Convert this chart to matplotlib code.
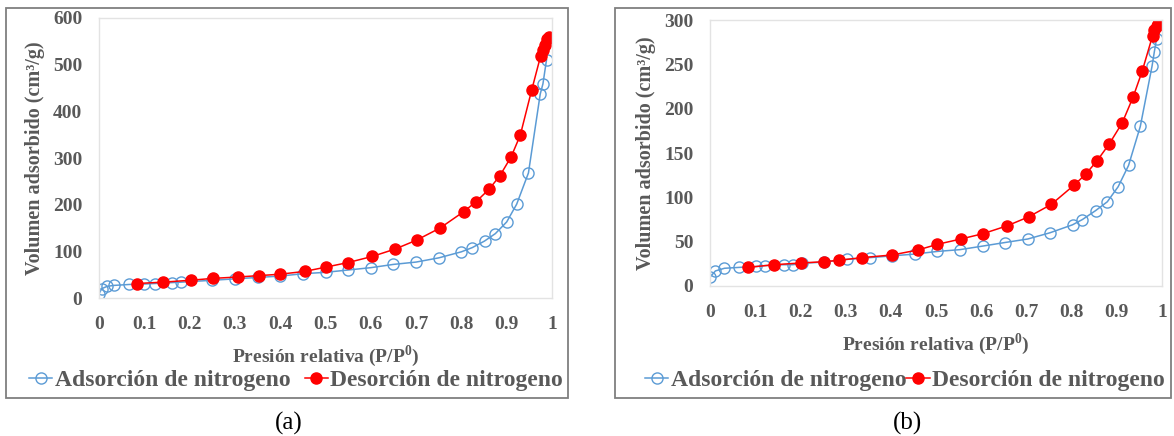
import matplotlib.pyplot as plt
from matplotlib.patches import Rectangle

# panel (a)
ads_a_x = [0.0, 0.006, 0.018, 0.033, 0.067, 0.10, 0.123, 0.161, 0.182, 0.25, 0.30, 0.35, 0.40,
           0.45, 0.50, 0.55, 0.60, 0.65, 0.70, 0.75, 0.80, 0.824, 0.851, 0.875, 0.90, 0.922,
           0.948, 0.974, 0.98, 0.988]
ads_a_y = [9, 20, 25, 27, 29, 30, 31, 33, 34, 38, 41, 44, 47, 52, 55, 60, 65, 72, 77, 86, 99,
           108, 122, 138, 163, 201, 268, 437, 459, 511]
des_a_x = [0.083, 0.142, 0.202, 0.251, 0.306, 0.354, 0.40, 0.454, 0.50, 0.55, 0.603, 0.654,
           0.701, 0.753, 0.805, 0.832, 0.861, 0.885, 0.91, 0.93, 0.955, 0.975, 0.98, 0.984,
           0.99, 0.993]
des_a_y = [31, 34, 38, 42, 45, 48, 51, 57, 66, 76, 89, 105, 124, 150, 185, 206, 233, 262, 303,
           349, 445, 519, 532, 543, 555, 559]

# panel (b)
ads_b_x = [0.0, 0.012, 0.032, 0.065, 0.102, 0.121, 0.163, 0.183, 0.204, 0.252, 0.303, 0.354,
           0.403, 0.453, 0.503, 0.553, 0.603, 0.652, 0.703, 0.752, 0.802, 0.824, 0.853, 0.879,
           0.903, 0.926, 0.952, 0.978, 0.983, 0.988]
ads_b_y = [10, 17, 20, 21, 22, 23, 24, 24, 25.6, 27, 30, 32, 34, 36, 39, 41, 45, 49, 53, 60,
           69, 75, 85, 95, 112, 136, 180, 248, 264, 279]
des_b_x = [0.084, 0.142, 0.202, 0.252, 0.285, 0.336, 0.403, 0.46, 0.503, 0.555, 0.604, 0.658,
           0.705, 0.755, 0.806, 0.831, 0.856, 0.883, 0.912, 0.936, 0.956, 0.979, 0.983, 0.988,
           0.992]
des_b_y = [21, 24, 26, 27.4, 29, 32, 35, 40.6, 47, 53, 59, 68, 78, 92, 114, 126, 141, 160, 184,
           213, 242, 282, 289, 293, 296]

plt.rcParams['font.family'] = 'Liberation Serif'
plt.rcParams['mathtext.fontset'] = 'custom'
plt.rcParams['mathtext.rm'] = 'Liberation Serif'
plt.rcParams['mathtext.bf'] = 'Liberation Serif:bold'

gray = '#595959'
blue = '#5b9bd5'
red = '#ff0000'
W, H = 1174, 436

fig = plt.figure(figsize=(11.74, 4.36), dpi=100)

# outer frames of the two panels
for x0, x1 in [(6, 568), (615, 1171)]:
    fig.add_artist(Rectangle((x0 / W, 1 - 398 / H), (x1 - x0) / W, (398 - 8) / H,
                             transform=fig.transFigure, fill=False, ec='#7f7f7f', lw=1.3))

panels = [
    dict(box=(99, 552, 18, 298), ads=(ads_a_x, ads_a_y), des=(des_a_x, des_a_y),
         ylim=600, ystep=100, legx=296, tag='(a)', tagx=289, colsp=0.6),
    dict(box=(710, 1162, 20, 286), ads=(ads_b_x, ads_b_y), des=(des_b_x, des_b_y),
         ylim=300, ystep=50, legx=905, tag='(b)', tagx=908, colsp=0.0),
]

for p in panels:
    l, r, t, b = p['box']
    ax = fig.add_axes([l / W, 1 - b / H, (r - l) / W, (b - t) / H])
    ax.plot(p['ads'][0], p['ads'][1], color=blue, lw=1.1, marker='o', ms=8,
            mfc='none', mec=blue, mew=1.0, label='Adsorción de nitrogeno')
    ax.plot(p['des'][0], p['des'][1], color=red, lw=1.1, marker='o', ms=8,
            mfc=red, mec=red, label='Desorción de nitrogeno')
    ax.set_xlim(0, 1)
    ax.set_ylim(0, p['ylim'])
    ax.set_xticks([i / 10 for i in range(11)])
    ax.set_xticklabels(['0', '0.1', '0.2', '0.3', '0.4', '0.5', '0.6', '0.7', '0.8', '0.9', '1'])
    ax.set_yticks(range(0, p['ylim'] + 1, p['ystep']))
    ax.tick_params(axis='x', length=0, labelsize=14, labelcolor=gray, pad=13)
    ax.tick_params(axis='y', length=0, labelsize=14, labelcolor=gray, pad=12)
    for lab in ax.get_xticklabels() + ax.get_yticklabels():
        lab.set_fontweight('bold')
    for s in ax.spines.values():
        s.set_color('#e3e3e3')
        s.set_linewidth(1.0)
    ax.set_xlabel(r'Presión relativa (P/P$^{\mathbf{0}}$)', fontsize=14, fontweight='bold',
                  color=gray, labelpad=7)
    ax.set_ylabel('Volumen adsorbido (cm³/g)', fontsize=14.5, fontweight='bold', color=gray,
                  labelpad=6)
    fig.legend(*ax.get_legend_handles_labels(), loc='center',
               bbox_to_anchor=(p['legx'] / W, 1 - 380 / H), ncol=2, frameon=False,
               handlelength=1.0, handletextpad=0.1, columnspacing=p['colsp'],
               prop={'family': 'Liberation Serif', 'weight': 'bold', 'size': 17},
               labelcolor=gray)
    fig.text(p['tagx'] / W, 1 - 423 / H, p['tag'], ha='center', va='center', fontsize=18,
             color='black')

fig.savefig('out.png', dpi=100)
